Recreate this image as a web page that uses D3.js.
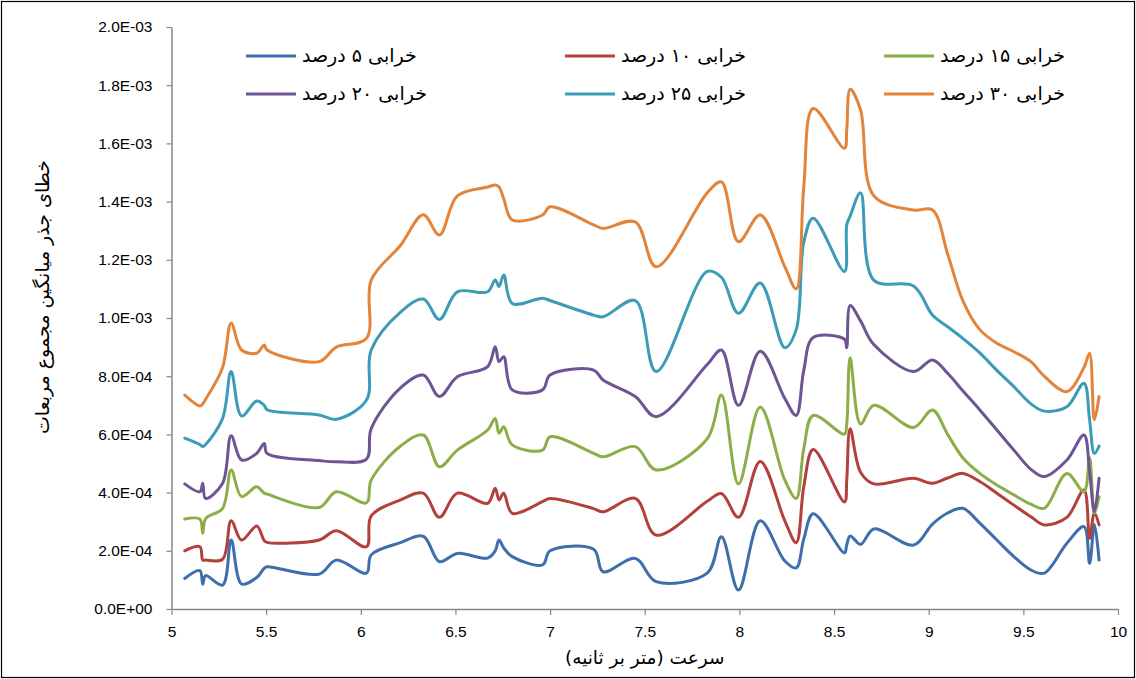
<!DOCTYPE html>
<html>
<head>
<meta charset="utf-8">
<script src="https://cdn.jsdelivr.net/npm/d3@7"></script>
<style>
  html, body { margin: 0; padding: 0; background: #fff; }
  svg { display: block; }
</style>
</head>
<body>
<div id="chart"></div>
<script>
// speed (m/s), shared by all series
const speeds = [
  5.07, 5.15, 5.165, 5.18, 5.27, 5.315, 5.37, 5.45, 5.49, 5.505,
  5.78, 5.87, 6.03, 6.055, 6.21, 6.33, 6.415, 6.51, 6.67, 6.71,
  6.73, 6.755, 6.80, 6.96, 7.0, 7.23, 7.28, 7.45, 7.56, 7.83,
  7.905, 7.995, 8.11, 8.24, 8.30, 8.34, 8.39, 8.555, 8.567, 8.585,
  8.64, 8.71, 8.92, 9.02, 9.1, 9.18, 9.27, 9.36, 9.45, 9.54,
  9.61, 9.73, 9.82, 9.85, 9.875, 9.9
];

// RMSE values, in units of 1E-03
const damage5 = [
  0.105, 0.132, 0.085, 0.115, 0.082, 0.237, 0.086, 0.108, 0.14, 0.145,
  0.12, 0.168, 0.123, 0.186, 0.228, 0.25, 0.163, 0.191, 0.175, 0.2,
  0.237, 0.21, 0.18, 0.152, 0.2, 0.205, 0.128, 0.174, 0.094, 0.123,
  0.248, 0.065, 0.303, 0.165, 0.141, 0.24, 0.327, 0.193, 0.22, 0.251,
  0.222, 0.275, 0.22, 0.292, 0.33, 0.346, 0.295, 0.237, 0.18, 0.134,
  0.123, 0.226, 0.283, 0.157, 0.29, 0.168
];
const damage10 = [
  0.2, 0.214, 0.168, 0.168, 0.171, 0.303, 0.237, 0.285, 0.235, 0.229,
  0.237, 0.269, 0.214, 0.32, 0.375, 0.398, 0.315, 0.398, 0.363, 0.415,
  0.375, 0.398, 0.329, 0.369, 0.38, 0.345, 0.334, 0.38, 0.254, 0.37,
  0.397, 0.315, 0.507, 0.303, 0.228, 0.42, 0.548, 0.368, 0.443, 0.619,
  0.47, 0.43, 0.449, 0.432, 0.45, 0.466, 0.438, 0.398, 0.357, 0.317,
  0.289, 0.315, 0.409, 0.243, 0.33, 0.289
];
const damage15 = [
  0.309, 0.309, 0.26, 0.31, 0.346, 0.478, 0.386, 0.42, 0.398, 0.395,
  0.349, 0.403, 0.365, 0.443, 0.56, 0.598, 0.489, 0.546, 0.615, 0.655,
  0.604, 0.626, 0.564, 0.546, 0.592, 0.535, 0.523, 0.558, 0.478, 0.585,
  0.735, 0.43, 0.694, 0.443, 0.38, 0.55, 0.665, 0.601, 0.636, 0.863,
  0.636, 0.7, 0.624, 0.684, 0.6, 0.52, 0.466, 0.426, 0.392, 0.36,
  0.346, 0.466, 0.403, 0.52, 0.329, 0.386
];
const damage20 = [
  0.43, 0.403, 0.432, 0.38, 0.432, 0.595, 0.512, 0.535, 0.569, 0.535,
  0.51, 0.506, 0.515, 0.62, 0.76, 0.804, 0.73, 0.798, 0.833, 0.901,
  0.85, 0.867, 0.753, 0.753, 0.804, 0.821, 0.787, 0.73, 0.661, 0.84,
  0.89, 0.7, 0.886, 0.723, 0.665, 0.82, 0.933, 0.927, 0.898, 1.043,
  0.99, 0.909, 0.816, 0.856, 0.81, 0.75, 0.684, 0.615, 0.546, 0.48,
  0.455, 0.512, 0.598, 0.47, 0.335, 0.449
];
const damage25 = [
  0.587, 0.565, 0.558, 0.565, 0.655, 0.816, 0.663, 0.715, 0.7, 0.685,
  0.667, 0.652, 0.718, 0.89, 1.02, 1.065, 0.995, 1.09, 1.09, 1.131,
  1.108, 1.148, 1.05, 1.068, 1.06, 1.01, 1.004, 1.06, 0.816, 1.16,
  1.14, 1.016, 1.12, 0.898, 0.96, 1.26, 1.343, 1.16, 1.32, 1.35,
  1.43, 1.13, 1.11, 1.01, 0.97, 0.93, 0.88, 0.82, 0.764, 0.705,
  0.68, 0.695, 0.776, 0.65, 0.535, 0.56
];
const damage30 = [
  0.735, 0.698, 0.705, 0.72, 0.83, 0.982, 0.89, 0.879, 0.907, 0.89,
  0.85, 0.9, 0.93, 1.13, 1.25, 1.355, 1.285, 1.42, 1.45, 1.457,
  1.45, 1.41, 1.337, 1.354, 1.382, 1.32, 1.308, 1.33, 1.176, 1.43,
  1.468, 1.262, 1.354, 1.176, 1.10, 1.45, 1.72, 1.583, 1.646, 1.786,
  1.715, 1.42, 1.371, 1.371, 1.22, 1.06, 0.96, 0.913, 0.884, 0.85,
  0.80, 0.747, 0.83, 0.879, 0.65, 0.73
];

const seriesNames = [
  "خرابی ۵ درصد", "خرابی ۱۰ درصد", "خرابی ۱۵ درصد",
  "خرابی ۲۰ درصد", "خرابی ۲۵ درصد", "خرابی ۳۰ درصد"
];
const seriesColors = ["#3e6eab", "#b2403d", "#8cae48", "#6d5494", "#3c9bb6", "#e3843b"];

const xTicks = [5, 5.5, 6, 6.5, 7, 7.5, 8, 8.5, 9, 9.5, 10];
const yTicks = [0, 0.0002, 0.0004, 0.0006, 0.0008, 0.001, 0.0012, 0.0014, 0.0016, 0.0018, 0.002];
const yTickLabels = [
  "0.0E+00", "2.0E-04", "4.0E-04", "6.0E-04", "8.0E-04", "1.0E-03",
  "1.2E-03", "1.4E-03", "1.6E-03", "1.8E-03", "2.0E-03"
];

const xTitle = "سرعت (متر بر ثانیه)";
const yTitle = "خطای جذر میانگین مجموع مربعات";

const width = 1136;
const height = 679;
const margin = { top: 27, right: 18, bottom: 70, left: 171.5 };
const latin = "'Liberation Sans', Arial, sans-serif";
const persian = "'DejaVu Sans', sans-serif";

const series = [damage5, damage10, damage15, damage20, damage25, damage30].map((vals, i) => ({
  name: seriesNames[i],
  color: seriesColors[i],
  points: vals.map((v, j) => ({ x: speeds[j], y: v * 1e-3 })),
}));

const svg = d3.select("#chart")
  .append("svg")
  .attr("width", width)
  .attr("height", height);

svg.append("rect")
  .attr("x", 1.5).attr("y", 1.5)
  .attr("width", width - 3).attr("height", height - 3)
  .attr("fill", "#fff")
  .attr("stroke", "#000")
  .attr("stroke-width", 1.2);

const x = d3.scaleLinear()
  .domain([5, 10])
  .range([margin.left, width - margin.right]);

const y = d3.scaleLinear()
  .domain([0, 0.002])
  .range([height - margin.bottom, margin.top]);

// axes
svg.append("g")
  .attr("transform", `translate(${margin.left},0)`)
  .call(d3.axisLeft(y).tickValues(yTicks).tickFormat((d, i) => yTickLabels[i]).tickSize(5).tickSizeOuter(0).tickPadding(14))
  .call((g) => g.select(".domain").attr("stroke", "#868686").attr("stroke-width", 1.5))
  .call((g) => g.selectAll(".tick line").attr("stroke", "#868686").attr("stroke-width", 1.2))
  .call((g) => g.selectAll("text").attr("fill", "#000").attr("font-size", 15.5).attr("font-family", latin));

svg.append("g")
  .attr("transform", `translate(0,${height - margin.bottom})`)
  .call(d3.axisBottom(x).tickValues(xTicks).tickFormat(d3.format("")).tickSize(6).tickSizeOuter(0).tickPadding(11))
  .call((g) => g.select(".domain").attr("stroke", "#868686").attr("stroke-width", 1.5))
  .call((g) => g.selectAll(".tick line").attr("stroke", "#868686").attr("stroke-width", 1.2))
  .call((g) => g.selectAll("text").attr("fill", "#000").attr("font-size", 15.5).attr("font-family", latin));

// lines
const line = d3.line()
  .x((d) => x(d.x))
  .y((d) => y(d.y))
  .curve(d3.curveCatmullRom.alpha(0.5));

svg.append("g")
  .selectAll("path")
  .data(series)
  .join("path")
  .attr("d", (s) => line(s.points))
  .attr("fill", "none")
  .attr("stroke", (s) => s.color)
  .attr("stroke-width", 3)
  .attr("stroke-linejoin", "round")
  .attr("stroke-linecap", "round");

// legend, 3 columns x 2 rows
const legendCols = [246, 565, 884];
const legendRows = [56, 94];

const legend = svg.append("g")
  .selectAll("g")
  .data(series)
  .join("g")
  .attr("transform", (s, i) => `translate(${legendCols[i % 3]},${legendRows[Math.floor(i / 3)]})`);

legend.append("line")
  .attr("x1", 0).attr("x2", 50)
  .attr("stroke", (s) => s.color)
  .attr("stroke-width", 3);

legend.append("text")
  .attr("x", 56)
  .attr("dy", "0.3em")
  .attr("font-family", persian)
  .attr("font-size", 19)
  .attr("fill", "#000")
  .text((s) => s.name);

// axis titles
svg.append("text")
  .attr("x", (margin.left + width - margin.right) / 2)
  .attr("y", 664)
  .attr("text-anchor", "middle")
  .attr("direction", "rtl")
  .attr("font-family", persian)
  .attr("font-size", 18.5)
  .attr("fill", "#000")
  .text(xTitle);

svg.append("text")
  .attr("transform", "translate(42,297) rotate(-90)")
  .attr("text-anchor", "middle")
  .attr("dy", "0.35em")
  .attr("direction", "rtl")
  .attr("font-family", persian)
  .attr("font-size", 19)
  .attr("fill", "#000")
  .text(yTitle);
</script>
</body>
</html>
